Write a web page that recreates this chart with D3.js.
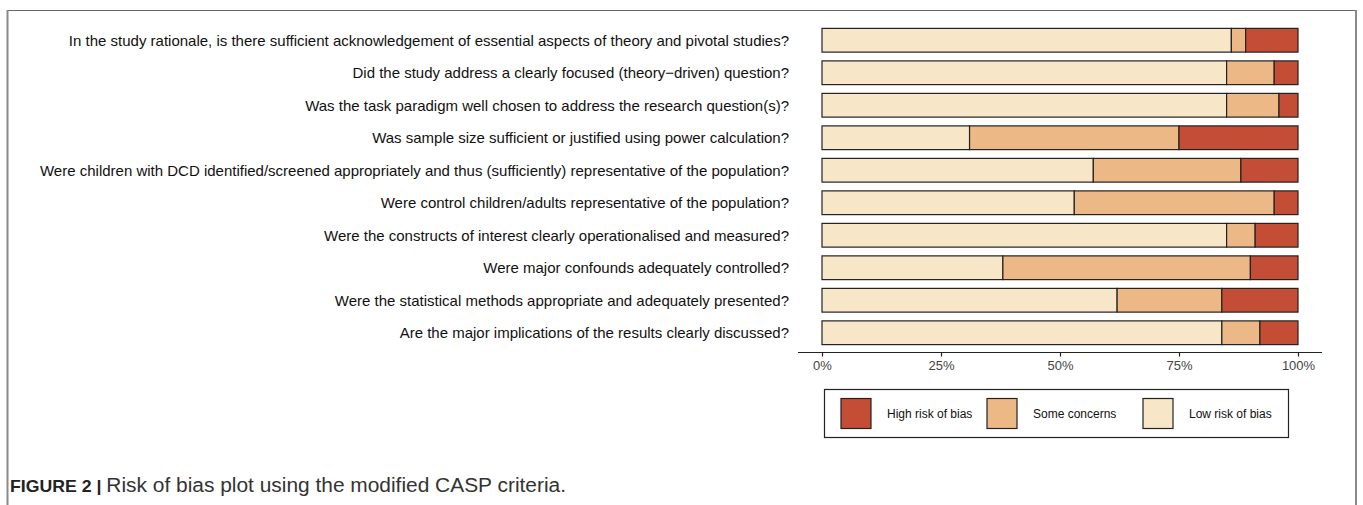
<!DOCTYPE html>
<html>
<head>
<meta charset="utf-8">
<script src="https://cdn.jsdelivr.net/npm/d3@7"></script>
<style>
body { margin: 0; background: #fff; }
text { font-family: "Liberation Sans", Arial, Helvetica, sans-serif; }
</style>
</head>
<body>
<script>
var questions = [
  "In the study rationale, is there sufficient acknowledgement of essential aspects of theory and pivotal studies?",
  "Did the study address a clearly focused (theory\u2212driven) question?",
  "Was the task paradigm well chosen to address the research question(s)?",
  "Was sample size sufficient or justified using power calculation?",
  "Were children with DCD identified/screened appropriately and thus (sufficiently) representative of the population?",
  "Were control children/adults representative of the population?",
  "Were the constructs of interest clearly operationalised and measured?",
  "Were major confounds adequately controlled?",
  "Were the statistical methods appropriate and adequately presented?",
  "Are the major implications of the results clearly discussed?"
];
// percentages per question
var lowRisk  = [86, 85, 85, 31, 57, 53, 85, 38, 62, 84];
var someConc = [3, 10, 11, 44, 31, 42, 6, 52, 22, 8];
var highRisk = [11, 5, 4, 25, 12, 5, 9, 10, 16, 8];
var tickVals = [0, 0.25, 0.5, 0.75, 1];
var seriesNames = ["Low risk of bias", "Some concerns", "High risk of bias"];
var legendOrder = ["High risk of bias", "Some concerns", "Low risk of bias"];
var colors = ["#F8E6C9", "#EBB886", "#C44D36"];

var W = 1363, H = 505;
var svg = d3.select("body").append("svg")
  .attr("width", W).attr("height", H);

// figure frame
svg.append("line").attr("x1", 7.5).attr("x2", 1356).attr("y1", 10.5).attr("y2", 10.5)
  .attr("stroke", "#666").attr("stroke-width", 1);
svg.append("line").attr("x1", 7.5).attr("x2", 7.5).attr("y1", 10).attr("y2", H)
  .attr("stroke", "#8a8a8a").attr("stroke-width", 2);
svg.append("line").attr("x1", 1356).attr("x2", 1356).attr("y1", 10).attr("y2", H)
  .attr("stroke", "#8a8a8a").attr("stroke-width", 2);

var x = d3.scaleLinear().domain([0, 1]).range([822, 1298]);
var y = d3.scaleBand().domain(d3.range(questions.length)).range([24, 349]).paddingInner(0.27).paddingOuter(0.135);

var rows = questions.map(function(q, i){
  var vals = [lowRisk[i], someConc[i], highRisk[i]];
  var tot = d3.sum(vals), acc = 0;
  return vals.map(function(v, k){
    var s = { row: i, k: k, x0: acc / tot, x1: (acc + v) / tot };
    acc += v;
    return s;
  });
});

var g = svg.append("g");
rows.forEach(function(segs){
  g.selectAll(null).data(segs).enter().append("rect")
    .attr("x", function(d){ return x(d.x0); })
    .attr("y", function(d){ return y(d.row); })
    .attr("width", function(d){ return x(d.x1) - x(d.x0); })
    .attr("height", y.bandwidth())
    .attr("fill", function(d){ return colors[d.k]; })
    .attr("stroke", "#222")
    .attr("stroke-width", 1.2);
});

// question labels
svg.selectAll("text.q").data(questions).enter().append("text")
  .attr("class", "q")
  .attr("x", 789)
  .attr("y", function(d, i){ return y(i) + y.bandwidth() / 2; })
  .attr("dy", "0.35em")
  .attr("text-anchor", "end")
  .attr("font-size", 15)
  .attr("fill", "#111")
  .text(function(d){ return d; });

// x axis
var axisG = svg.append("g").attr("transform", "translate(0,352.5)");
axisG.append("line").attr("x1", 798).attr("x2", 1322).attr("stroke", "#222").attr("stroke-width", 1.2);
axisG.call(d3.axisBottom(x).tickValues(tickVals).tickSize(4).tickPadding(4)
  .tickFormat(d3.format(".0%")));
axisG.select(".domain").remove();
axisG.selectAll(".tick line").attr("stroke", "#222").attr("stroke-width", 1.2);
axisG.selectAll(".tick text").attr("font-size", 13).attr("fill", "#444")
  .attr("font-family", "'Liberation Sans', Arial, sans-serif");

// legend
var lg = svg.append("g");
lg.append("rect").attr("x", 824.5).attr("y", 389.5).attr("width", 464).attr("height", 48)
  .attr("fill", "#fff").attr("stroke", "#222").attr("stroke-width", 1.2);
var legX = [841, 987, 1143];
lg.selectAll("rect.key").data(legendOrder).enter().append("rect")
  .attr("class", "key")
  .attr("x", function(d, i){ return legX[i]; })
  .attr("y", 398.5)
  .attr("width", 30).attr("height", 30)
  .attr("fill", function(d){ return colors[seriesNames.indexOf(d)]; })
  .attr("stroke", "#222").attr("stroke-width", 1.2);
lg.selectAll("text").data(legendOrder).enter().append("text")
  .attr("x", function(d, i){ return legX[i] + 46; })
  .attr("y", 413.5)
  .attr("dy", "0.35em")
  .attr("font-size", 12)
  .attr("fill", "#111")
  .text(function(d){ return d; });

// caption
var cap = svg.append("text").attr("x", 10).attr("y", 492).attr("font-size", 19.5)
  .attr("fill", "#333")
  .attr("textLength", 556).attr("lengthAdjust", "spacingAndGlyphs");
cap.append("tspan").attr("font-weight", "bold").attr("font-size", 16.5).attr("fill", "#222").text("FIGURE 2 | ");
cap.append("tspan").text("Risk of bias plot using the modified CASP criteria.");
</script>
</body>
</html>
